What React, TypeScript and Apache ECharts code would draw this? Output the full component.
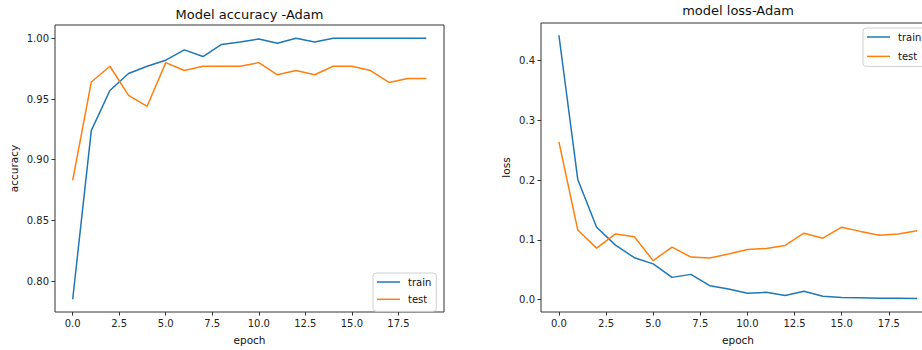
import React, { useEffect, useRef } from "react";
import * as echarts from "echarts";

const epochs = [0, 1, 2, 3, 4, 5, 6, 7, 8, 9, 10, 11, 12, 13, 14, 15, 16, 17, 18, 19];
const trainAcc = [0.785, 0.924, 0.957, 0.971, 0.977, 0.982, 0.9905, 0.985, 0.995, 0.997, 0.9995, 0.996, 1.0, 0.997, 1.0, 1.0, 1.0, 1.0, 1.0, 1.0];
const testAcc = [0.883, 0.964, 0.977, 0.953, 0.944, 0.98, 0.9735, 0.977, 0.977, 0.977, 0.98, 0.97, 0.9735, 0.97, 0.977, 0.977, 0.9735, 0.9637, 0.967, 0.967];
const trainLoss = [0.4425, 0.201, 0.121, 0.091, 0.07, 0.0596, 0.037, 0.042, 0.023, 0.0176, 0.0104, 0.012, 0.0066, 0.0137, 0.0055, 0.0033, 0.003, 0.002, 0.002, 0.0015];
const testLoss = [0.264, 0.1164, 0.086, 0.1098, 0.105, 0.065, 0.0877, 0.071, 0.0695, 0.076, 0.0838, 0.0855, 0.0904, 0.111, 0.1026, 0.121, 0.114, 0.1076, 0.1098, 0.1152];
const xTicks = [0, 2.5, 5, 7.5, 10, 12.5, 15, 17.5];
const accTicks = [0.8, 0.85, 0.9, 0.95, 1.0];
const lossTicks = [0, 0.1, 0.2, 0.3, 0.4];

const FONT = "DejaVu Sans";
const BLUE = "#1f77b4";
const ORANGE = "#ff7f0e";
const AXIS = "#333";

function xAxisCfg(gridIndex: number) {
  return {
    type: "value",
    gridIndex,
    min: -0.95,
    max: 19.95,
    name: "epoch",
    nameLocation: "middle",
    nameGap: 22,
    nameTextStyle: { fontSize: 10.5, color: "#111", fontFamily: FONT },
    axisLine: { show: false, onZero: false },
    splitLine: { show: false },
    axisTick: { show: true, length: 3.5, customValues: xTicks, lineStyle: { color: AXIS, width: 1 } },
    axisLabel: {
      customValues: xTicks,
      margin: 6,
      fontSize: 10,
      color: "#222",
      fontFamily: FONT,
      formatter: (v: number) => v.toFixed(1),
    },
  };
}

function yAxisCfg(gridIndex: number, min: number, max: number, ticks: number[], name: string, nameGap: number, digits: number) {
  return {
    type: "value",
    gridIndex,
    min,
    max,
    name,
    nameLocation: "middle",
    nameGap,
    nameRotate: 90,
    nameTextStyle: { fontSize: 10.5, color: "#111", fontFamily: FONT },
    axisLine: { show: false, onZero: false },
    splitLine: { show: false },
    axisTick: { show: true, length: 3.5, customValues: ticks, lineStyle: { color: AXIS, width: 1 } },
    axisLabel: {
      customValues: ticks,
      margin: 6,
      fontSize: 10,
      color: "#222",
      fontFamily: FONT,
      formatter: (v: number) => v.toFixed(digits),
    },
  };
}

function lineSeries(name: string, xi: number, vals: number[], color: string) {
  return {
    type: "line",
    name,
    xAxisIndex: xi,
    yAxisIndex: xi,
    data: epochs.map((e, i) => [e, vals[i]]),
    symbol: "none",
    showSymbol: false,
    lineStyle: { color, width: 1.5 },
    itemStyle: { color },
    emphasis: { disabled: true },
  };
}

function legendCfg(left: number, top: number, itemGap: number, padding: number[]) {
  return {
    left,
    top,
    orient: "vertical",
    data: [
      { name: "train", icon: "rect", itemStyle: { color: BLUE, borderWidth: 0 } },
      { name: "test", icon: "rect", itemStyle: { color: ORANGE, borderWidth: 0 } },
    ],
    itemWidth: 23,
    itemHeight: 1.5,
    itemGap,
    padding,
    backgroundColor: "rgba(255,255,255,0.8)",
    borderColor: "#d0d0d0",
    borderWidth: 1,
    borderRadius: 3,
    selectedMode: false,
    textStyle: { fontSize: 10, lineHeight: 14, color: "#111", fontFamily: FONT, padding: [0, 0, 0, 3] },
  };
}

export default function App() {
  const ref = useRef<HTMLDivElement>(null);
  useEffect(() => {
    if (!ref.current) return;
    const chart = echarts.init(ref.current, undefined, { renderer: "svg" });
    chart.setOption({
      animation: false,
      backgroundColor: "#fff",
      textStyle: { fontFamily: FONT },
      title: [
        {
          text: "Model accuracy -Adam",
          left: 249.5,
          textAlign: "center",
          top: 7.5,
          padding: 0,
          textStyle: { fontSize: 13, fontWeight: "normal", color: "#111", fontFamily: FONT },
        },
        {
          text: "model loss-Adam",
          left: 738,
          textAlign: "center",
          top: 4,
          padding: 0,
          textStyle: { fontSize: 13, fontWeight: "normal", color: "#111", fontFamily: FONT },
        },
      ],
      legend: [legendCfg(373, 273, 3.3, [2, 5, 5, 4]), legendCfg(863, 28, 5.4, [2, 5, 3, 4])],
      grid: [
        { left: 55, top: 25, width: 389, height: 290, show: true, borderColor: AXIS, borderWidth: 1, backgroundColor: "transparent" },
        { left: 541, top: 23, width: 394, height: 292, show: true, borderColor: AXIS, borderWidth: 1, backgroundColor: "transparent" },
      ],
      xAxis: [xAxisCfg(0), xAxisCfg(1)],
      yAxis: [
        yAxisCfg(0, 0.7745, 1.011, accTicks, "accuracy", 36, 2),
        yAxisCfg(1, -0.021, 0.463, lossTicks, "loss", 30, 1),
      ],
      series: [
        lineSeries("train", 0, trainAcc, BLUE),
        lineSeries("test", 0, testAcc, ORANGE),
        lineSeries("train", 1, trainLoss, BLUE),
        lineSeries("test", 1, testLoss, ORANGE),
      ],
    });
    return () => chart.dispose();
  }, []);
  return (
    <div style={{ position: "fixed", left: 0, top: 0, width: 922, height: 350, overflow: "hidden", background: "#fff" }}>
      <div ref={ref} style={{ width: 940, height: 350 }} />
    </div>
  );
}
